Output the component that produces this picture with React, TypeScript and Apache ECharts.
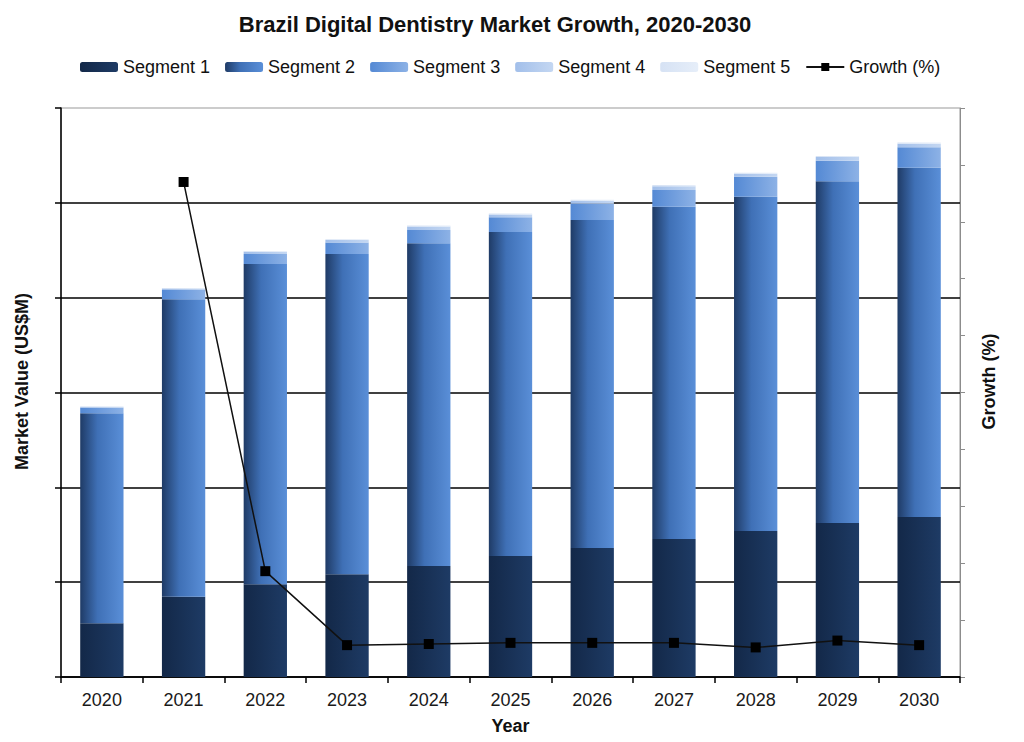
import React, { useEffect, useRef } from "react";
import * as echarts from "echarts";

const years = ["2020", "2021", "2022", "2023", "2024", "2025", "2026", "2027", "2028", "2029", "2030"];
const segment1 = [56.6, 84.7, 97.7, 108.3, 117.0, 127.6, 136.0, 145.5, 154.0, 162.4, 168.7];
const segment2 = [221.5, 313.6, 337.8, 337.8, 340.3, 341.7, 346.0, 350.5, 352.5, 360.3, 368.3];
const segment3 = [5.8, 9.8, 10.5, 12.0, 14.0, 15.5, 17.0, 17.6, 21.0, 21.8, 21.5];
const segment4 = [1.0, 1.5, 2.4, 2.6, 3.7, 3.0, 3.2, 3.9, 3.2, 3.7, 3.7];
const segment5 = [0.3, 0.5, 0.8, 1.0, 1.2, 1.0, 1.1, 1.3, 1.1, 1.3, 1.3];
const growth = [null, 43.5, 9.3, 2.8, 2.9, 3.0, 3.0, 3.0, 2.6, 3.2, 2.8];

const FONT = "'Liberation Sans', Arial, sans-serif";

function hGrad(stops: [number, string][]) {
  return {
    type: "linear",
    x: 0,
    y: 0,
    x2: 1,
    y2: 0,
    colorStops: stops.map(([offset, color]) => ({ offset, color })),
  };
}

const segColors = [
  hGrad([[0, "#132848"], [1, "#1e3b65"]]),
  hGrad([[0, "#1f3b66"], [0.4, "#3f70b6"], [1, "#5a8fd8"]]),
  hGrad([[0, "#5489d4"], [1, "#8db2e6"]]),
  hGrad([[0, "#a2bfea"], [1, "#c4d7f2"]]),
  hGrad([[0, "#d6e2f4"], [1, "#e6eef9"]]),
];

export default function App() {
  const ref = useRef<HTMLDivElement>(null);

  useEffect(() => {
    document.body.style.margin = "0";
    const chart = echarts.init(ref.current!, null, { renderer: "svg" });
    const segs = [segment1, segment2, segment3, segment4, segment5];
    const barSeries = segs.map((d, i) => ({
      name: `Segment ${i + 1}`,
      type: "bar",
      stack: "total",
      barWidth: "53%",
      data: d,
      itemStyle: { color: segColors[i] },
    }));
    chart.setOption({
      animation: false,
      textStyle: { fontFamily: FONT },
      title: {
        text: "Brazil Digital Dentistry Market Growth, 2020-2030",
        left: 490,
        top: 8,
        textAlign: "center",
        textStyle: { fontFamily: FONT, fontSize: 22, fontWeight: "bold", color: "#111" },
      },
      legend: {
        left: 80,
        top: 58,
        padding: 0,
        itemWidth: 38,
        itemHeight: 10,
        itemGap: 15,
        textStyle: { fontFamily: FONT, fontSize: 18, color: "#111" },
        data: ["Segment 1", "Segment 2", "Segment 3", "Segment 4", "Segment 5", "Growth (%)"],
      },
      grid: {
        left: 61,
        right: 64,
        top: 108,
        bottom: 65,
        show: true,
        borderColor: "#999",
        borderWidth: 1,
        backgroundColor: "transparent",
      },
      xAxis: {
        type: "category",
        data: years,
        boundaryGap: true,
        name: "Year",
        nameLocation: "middle",
        nameGap: 40,
        nameTextStyle: { fontFamily: FONT, fontSize: 18, fontWeight: "bold", color: "#111" },
        axisLine: { show: true, lineStyle: { color: "#000", width: 1.5 } },
        axisTick: { show: true, alignWithLabel: false, length: 6, lineStyle: { color: "#000", width: 1.5 } },
        axisLabel: { fontFamily: FONT, fontSize: 18, color: "#1a1a1a", margin: 14 },
      },
      yAxis: [
        {
          type: "value",
          min: 0,
          max: 600,
          interval: 100,
          name: "Market Value (US$M)",
          nameLocation: "middle",
          nameRotate: 90,
          nameGap: 30,
          nameTextStyle: {
            fontFamily: FONT,
            fontSize: 18,
            fontWeight: "bold",
            color: "#111",
            padding: [0, 0, 0, 22],
          },
          axisLine: { show: true, lineStyle: { color: "#000", width: 1.5 } },
          axisTick: { show: true, length: 6, lineStyle: { color: "#000", width: 1.5 } },
          axisLabel: { show: false },
          splitLine: { show: true, showMaxLine: false, lineStyle: { color: "#000", width: 1.5 } },
        },
        {
          type: "value",
          position: "right",
          min: 0,
          max: 50,
          interval: 5,
          name: "Growth (%)",
          nameLocation: "middle",
          nameRotate: 90,
          nameGap: 20,
          nameTextStyle: {
            fontFamily: FONT,
            fontSize: 18,
            fontWeight: "bold",
            color: "#111",
            padding: [0, 0, 0, 22],
          },
          axisLine: { show: true, lineStyle: { color: "#8c8c8c", width: 1 } },
          axisTick: { show: true, length: 5, lineStyle: { color: "#8c8c8c", width: 1 } },
          axisLabel: { show: false },
          splitLine: { show: false },
        },
      ],
      series: [
        ...barSeries,
        {
          name: "Growth (%)",
          type: "line",
          yAxisIndex: 1,
          data: growth,
          symbol: "rect",
          symbolSize: 10,
          z: 5,
          lineStyle: { color: "#111", width: 1.5 },
          itemStyle: { color: "#000" },
        },
      ],
    });
    return () => chart.dispose();
  }, []);

  return <div ref={ref} style={{ width: 1024, height: 742 }} />;
}
